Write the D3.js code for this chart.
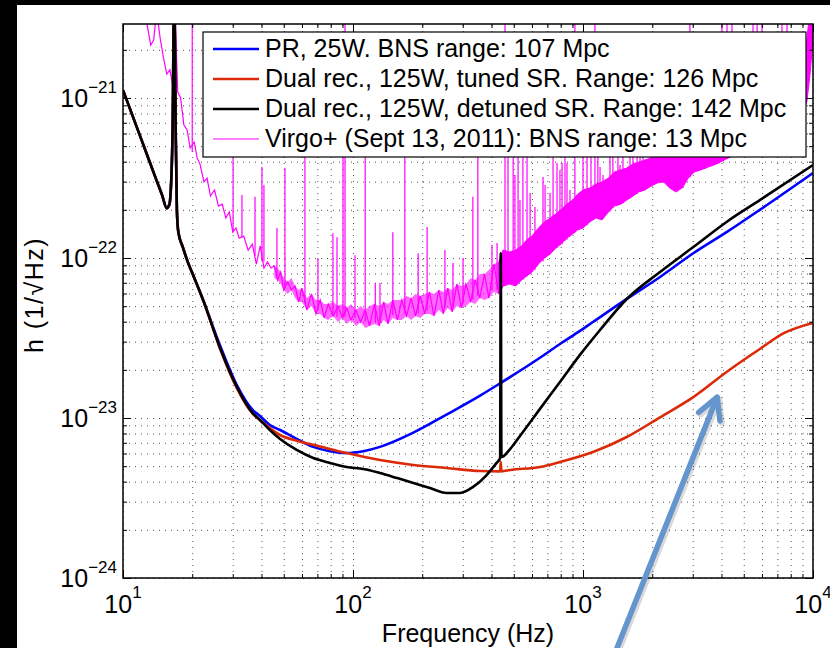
<!DOCTYPE html>
<html>
<head>
<meta charset="utf-8">
<script src="https://cdn.jsdelivr.net/npm/d3@7"></script>
<style>
html, body { margin: 0; padding: 0; background: #fff; overflow: hidden; width: 100%; height: 100%; }
#viz { width: 100%; height: 100%; }
svg { display: block; }
svg text { font-family: "Liberation Sans", Arial, Helvetica, sans-serif; fill: #000; }
.grid line { stroke: #555; stroke-width: 1; stroke-dasharray: 1,5; }
.grid .domain { display: none; }
</style>
</head>
<body>
<div id="viz"></div>
<script>
const width = 830;
const height = 648;

// tick exponents (10^n)
const xTickExps = [1, 2, 3, 4];
const yTickExps = [-24, -23, -22, -21];

// shared low-frequency part of the three detector curves [Hz, h]
const lowFreqPart = [
  [10, 1.12e-21], [11.86, 5.8e-22], [13.77, 3.25e-22], [14.78, 2.48e-22], [15.5, 2.05e-22],
  [15.9, 2.15e-22], [16.2, 3.0e-22], [16.45, 7e-22], [16.7, 6e-21], [16.95, 6e-22],
  [17.15, 2.0e-22], [17.4, 1.45e-22], [18.2, 1.17e-22], [19, 9.7e-23], [20.5, 7.4e-23],
  [22.3, 5.46e-23]
];

const prCurve = [
  [26.4, 2.85e-23], [31.3, 1.6e-23], [36.7, 1.12e-23], [39.4, 1.03e-23], [43.5, 9.04e-24],
  [48.2, 8.41e-24], [56.9, 7.4e-24], [67.2, 6.6e-24], [79.4, 6.2e-24], [93.9, 6.04e-24],
  [110.9, 6.2e-24], [131, 6.6e-24], [183, 8.1e-24], [255, 1.05e-23], [357, 1.38e-23],
  [434, 1.64e-23], [650, 2.38e-23], [794, 2.9e-23], [970, 3.5e-23], [1105, 3.98e-23],
  [1550, 5.55e-23], [2163, 7.61e-23], [3017, 1.07e-22], [4209, 1.45e-22], [5872, 2.0e-22],
  [10000, 3.4e-22]
];

const tunedCurve = [
  [26.4, 2.72e-23], [31.3, 1.53e-23], [36.7, 1.06e-23], [39.4, 9.72e-24], [43.5, 8.66e-24],
  [48.2, 7.83e-24], [56.9, 7.2e-24], [67.2, 6.8e-24], [93.9, 6.04e-24], [131, 5.46e-24],
  [183, 5.09e-24], [255, 4.87e-24], [357, 4.66e-24], [436, 4.64e-24], [439, 5.3e-24],
  [442, 4.64e-24], [482, 4.73e-24], [650, 4.94e-24], [794, 5.31e-24], [1105, 6.13e-24],
  [1550, 7.61e-24], [2163, 1.01e-23], [3017, 1.35e-23], [4209, 1.94e-23], [5872, 2.7e-23],
  [7500, 3.4e-23], [10000, 3.93e-23]
];

const detunedCurve = [
  [26.4, 2.75e-23], [31.3, 1.56e-23], [36.7, 1.07e-23], [39.4, 9.72e-24], [43.5, 8.41e-24],
  [48.2, 7.39e-24], [56.9, 6.31e-24], [67.2, 5.62e-24], [79.4, 5.24e-24], [93.9, 4.94e-24],
  [110.9, 4.8e-24], [131, 4.53e-24], [155, 4.22e-24], [183, 3.93e-24], [216, 3.65e-24],
  [255, 3.4e-24], [292, 3.4e-24], [333, 3.71e-24], [381, 4.4e-24], [421, 5.24e-24],
  [436, 5.6e-24], [439, 1.07e-22], [442, 5.7e-24], [482, 6.4e-24], [532, 7.72e-24],
  [650, 1.14e-23], [794, 1.68e-23], [970, 2.48e-23], [1186, 3.55e-23], [1550, 5.54e-23],
  [2163, 8.18e-23], [3017, 1.17e-22], [4209, 1.68e-22], [5872, 2.3e-22], [10000, 3.81e-22]
];

// Virgo+ measured noise: jittery trace [Hz, h]
const virgoLine = [
  [11.5, 4.5e-21], [12, 5e-21], [12.8, 2.74e-21], [13.2, 2.14e-21], [13.6, 2.30e-21],
  [14, 3.55e-21], [14.5, 2.37e-21], [15, 1.78e-21], [15.5, 1.41e-21], [16, 1.50e-21],
  [16.4, 1.22e-21], [16.8, 3.81e-21], [17.3, 1.09e-21], [17.8, 1.0e-21], [18.4, 6.78e-22],
  [19, 6.31e-22], [19.6, 4.87e-22], [20.4, 5.31e-22], [21, 4.22e-22], [21.6, 3.87e-22],
  [22.5, 2.99e-22], [23.2, 3.16e-22], [24, 2.44e-22], [25, 2.66e-22], [26, 2.11e-22],
  [27, 2.17e-22], [28, 1.78e-22], [29, 1.94e-22], [30, 1.45e-22], [31, 1.54e-22],
  [32, 1.33e-22], [33.5, 1.37e-22], [35, 1.12e-22], [36.5, 1.22e-22], [38, 9.17e-23],
  [39.5, 1.19e-22], [41, 8.66e-23], [42.5, 9.44e-23], [44, 8.66e-23], [45.5, 8.91e-23],
  [47, 7.29e-23], [48.5, 8.18e-23], [50, 6.31e-23], [52, 7.08e-23], [54, 6.31e-23],
  [56, 6.68e-23], [58, 5.31e-23], [60, 6.49e-23], [63, 4.73e-23], [66, 5.96e-23],
  [69, 4.47e-23], [72, 5.46e-23], [75, 4.22e-23], [78, 5.16e-23], [82, 4.34e-23],
  [86, 5.01e-23], [90, 4.22e-23], [94, 4.87e-23], [98, 4.10e-23], [103, 4.73e-23],
  [108, 3.98e-23], [113, 4.73e-23], [118, 3.76e-23], [124, 5.16e-23], [130, 3.76e-23],
  [136, 5.31e-23], [142, 3.87e-23], [149, 5.46e-23], [156, 4.10e-23], [163, 5.46e-23],
  [171, 4.34e-23], [179, 5.62e-23], [187, 4.34e-23], [196, 5.79e-23], [205, 4.47e-23],
  [215, 6.13e-23], [225, 4.34e-23], [236, 6.31e-23], [247, 4.47e-23], [258, 6.49e-23],
  [270, 4.60e-23], [283, 6.88e-23], [296, 4.87e-23], [310, 6.88e-23], [325, 5.31e-23],
  [340, 7.29e-23], [356, 5.62e-23], [373, 7.94e-23], [390, 5.62e-23], [410, 9.17e-23],
  [430, 5.96e-23], [450, 1.12e-22]
];

// Virgo+ noise spread between 45 and 450 Hz [Hz, lower edge, upper edge]
const virgoNoiseBand = [
  [45.5, 7.50e-23, 8.91e-23], [47, 7.29e-23, 8.66e-23], [48.5, 6.88e-23, 8.18e-23],
  [50, 6.31e-23, 7.50e-23], [52, 5.96e-23, 7.08e-23], [54, 6.31e-23, 7.50e-23],
  [56, 5.62e-23, 6.68e-23], [58, 5.31e-23, 6.31e-23], [60, 5.31e-23, 6.49e-23],
  [63, 4.73e-23, 5.62e-23], [66, 5.01e-23, 5.96e-23], [69, 4.47e-23, 5.46e-23],
  [72, 4.47e-23, 5.46e-23], [75, 4.22e-23, 5.16e-23], [78, 4.10e-23, 5.16e-23],
  [82, 4.34e-23, 5.31e-23], [86, 3.98e-23, 5.01e-23], [90, 4.22e-23, 5.16e-23],
  [94, 3.87e-23, 4.87e-23], [98, 4.10e-23, 5.16e-23], [103, 3.76e-23, 4.73e-23],
  [108, 3.98e-23, 5.01e-23], [113, 3.65e-23, 4.73e-23], [118, 3.76e-23, 5.01e-23],
  [124, 3.87e-23, 5.16e-23], [130, 3.76e-23, 5.01e-23], [136, 4.10e-23, 5.31e-23],
  [142, 3.87e-23, 5.16e-23], [149, 4.22e-23, 5.46e-23], [156, 4.10e-23, 5.46e-23],
  [163, 4.10e-23, 5.46e-23], [171, 4.34e-23, 5.79e-23], [179, 4.10e-23, 5.62e-23],
  [187, 4.34e-23, 5.96e-23], [196, 4.22e-23, 5.79e-23], [205, 4.47e-23, 5.96e-23],
  [215, 4.47e-23, 6.13e-23], [225, 4.34e-23, 5.96e-23], [236, 4.73e-23, 6.31e-23],
  [247, 4.47e-23, 6.13e-23], [258, 4.87e-23, 6.49e-23], [270, 4.60e-23, 6.31e-23],
  [283, 5.01e-23, 6.88e-23], [296, 4.87e-23, 6.68e-23], [310, 5.01e-23, 6.88e-23],
  [325, 5.31e-23, 7.50e-23], [340, 5.16e-23, 7.29e-23], [356, 5.62e-23, 7.94e-23],
  [373, 5.46e-23, 7.94e-23], [390, 5.62e-23, 8.41e-23], [410, 6.13e-23, 9.17e-23],
  [430, 5.96e-23, 9.44e-23]
];

// Virgo+ dense high-frequency band [Hz, lower edge, upper edge]
const virgoBand = [
  [430, 5.96e-23, 9.44e-23], [450, 6.68e-23, 1.12e-22], [480, 6.88e-23, 1.09e-22],
  [510, 6.68e-23, 1.12e-22], [540, 7.29e-23, 1.19e-22], [570, 7.72e-23, 1.30e-22],
  [600, 8.18e-23, 1.37e-22], [640, 9.17e-23, 1.54e-22], [680, 1.0e-22, 1.68e-22],
  [720, 1.06e-22, 1.78e-22], [760, 1.15e-22, 1.88e-22], [800, 1.22e-22, 2.0e-22],
  [850, 1.33e-22, 2.17e-22], [900, 1.41e-22, 2.30e-22], [950, 1.50e-22, 2.51e-22],
  [1000, 1.54e-22, 2.66e-22], [1070, 1.68e-22, 2.74e-22], [1140, 1.78e-22, 2.90e-22],
  [1210, 1.73e-22, 2.99e-22], [1290, 1.94e-22, 3.16e-22], [1370, 2.11e-22, 3.45e-22],
  [1460, 2.17e-22, 3.55e-22], [1550, 2.30e-22, 3.65e-22], [1650, 2.44e-22, 3.87e-22],
  [1750, 2.59e-22, 3.98e-22], [1860, 2.66e-22, 4.10e-22], [1980, 2.82e-22, 4.22e-22],
  [2100, 2.94e-22, 4.34e-22], [2240, 2.99e-22, 4.47e-22], [2380, 2.74e-22, 4.47e-22],
  [2530, 2.59e-22, 4.34e-22], [2700, 2.74e-22, 4.60e-22], [2870, 3.16e-22, 5.01e-22],
  [3050, 3.45e-22, 5.16e-22], [3250, 3.55e-22, 5.31e-22], [3500, 3.70e-22, 5.54e-22],
  [3800, 3.87e-22, 5.79e-22], [4200, 4.16e-22, 6.22e-22], [4700, 4.47e-22, 6.68e-22],
  [5300, 4.80e-22, 7.29e-22], [6000, 5.23e-22, 7.83e-22], [7000, 5.96e-22, 8.91e-22],
  [8000, 6.88e-22, 1.03e-21], [9000, 8.18e-22, 1.30e-21], [9400, 9.44e-22, 2.30e-21],
  [9700, 1.39e-21, 3.55e-21], [10000, 2.30e-21, 4.10e-21]
];

// Virgo+ narrow lines [Hz, base, peak]
const virgoSpikes = [
  [20, 4.6e-22, 3e-21], [30.1, 1.45e-22, 1.5e-21], [32.9, 1.35e-22, 2.48e-22],
  [37.5, 1.03e-22, 2.41e-22], [40.2, 9.5e-23, 3.70e-22], [41.0, 9.5e-23, 2.86e-22],
  [46.7, 7.6e-23, 1.54e-22], [50.6, 6.5e-23, 3.65e-22], [61.8, 5.2e-23, 1.5e-21],
  [70.4, 4.7e-23, 1.0e-22], [81.8, 4.4e-23, 1.43e-22], [85.2, 4.3e-23, 1.35e-22],
  [90.5, 4.3e-23, 1.5e-21], [92.3, 4.3e-23, 3e-21], [102, 4.2e-23, 1.04e-22],
  [113, 4.0e-23, 1.5e-21], [125, 4.0e-23, 6.98e-23], [131, 4.0e-23, 6.98e-23],
  [149, 4.4e-23, 1.45e-22], [168, 4.5e-23, 1.5e-21], [192, 4.5e-23, 1.07e-22],
  [210, 4.7e-23, 1.56e-22], [251, 4.9e-23, 1.12e-22], [272, 5.0e-23, 9.31e-23],
  [301, 5.2e-23, 1.0e-22], [332, 5.5e-23, 2.41e-22], [349, 5.8e-23, 1.5e-21],
  [402, 6.3e-23, 1.21e-22], [423, 6.3e-23, 1.24e-22], [458, 7e-23, 3e-21],
  [472, 7e-23, 1.5e-21], [497, 6.9e-23, 1.5e-21], [506, 6.8e-23, 3.3e-22],
  [522, 7.0e-23, 1.5e-21], [532, 7.1e-23, 2.30e-22], [548, 7.3e-23, 1.5e-21],
  [571, 7.7e-23, 1.5e-21], [589, 7.9e-23, 2.55e-22], [618, 8.4e-23, 2.08e-22],
  [670, 9.5e-23, 3.21e-22], [684, 1.0e-22, 2.86e-22], [719, 1.05e-22, 2.55e-22],
  [741, 1.1e-22, 1.5e-21], [771, 1.15e-22, 3.92e-22], [794, 1.2e-22, 3.55e-22],
  [811, 1.22e-22, 3.92e-22], [835, 1.28e-22, 1.5e-21], [852, 1.3e-22, 3.92e-22],
  [878, 1.36e-22, 2.66e-22], [922, 1.45e-22, 3e-21], [1000, 1.54e-22, 1.5e-21],
  [1041, 1.6e-22, 1.5e-21], [1083, 1.7e-22, 1.5e-21], [1127, 1.78e-22, 3e-21],
  [1161, 1.75e-22, 1.5e-21], [1186, 1.75e-22, 3.70e-22], [1222, 1.8e-22, 3.3e-22],
  [1310, 1.95e-22, 1.5e-21], [1349, 2.05e-22, 1.5e-21], [1419, 2.15e-22, 1.5e-21],
  [1449, 2.17e-22, 3.81e-22], [1492, 2.2e-22, 1.5e-21], [1601, 2.35e-22, 1.5e-21],
  [1649, 2.44e-22, 1.5e-21], [1718, 2.5e-22, 1.5e-21], [1770, 2.6e-22, 1.5e-21],
  [1824, 2.65e-22, 1.5e-21], [1956, 2.8e-22, 1.5e-21], [1995, 2.8e-22, 1.5e-21],
  [2056, 2.9e-22, 1.5e-21], [2205, 3.0e-22, 1.5e-21], [2273, 3.0e-22, 1.5e-21],
  [2389, 2.8e-22, 1.5e-21], [2588, 2.6e-22, 1.5e-21], [2722, 2.74e-22, 1.5e-21],
  [2804, 3.0e-22, 1.5e-21], [2917, 3.2e-22, 3e-21], [3069, 3.45e-22, 1.5e-21],
  [3162, 3.5e-22, 1.5e-21], [3228, 3.55e-22, 1.5e-21], [3325, 3.6e-22, 1.5e-21],
  [3391, 3.6e-22, 1.5e-21], [3495, 3.7e-22, 1.5e-21], [3603, 3.75e-22, 1.5e-21],
  [3712, 3.8e-22, 1.5e-21], [3786, 3.85e-22, 1.5e-21], [3903, 3.9e-22, 1.5e-21],
  [4018, 4.0e-22, 3e-21], [4227, 4.2e-22, 3e-21], [4443, 4.3e-22, 3e-21],
  [4581, 4.4e-22, 1.5e-21], [4819, 4.5e-22, 1.5e-21], [5058, 4.6e-22, 1.5e-21],
  [5321, 4.8e-22, 1.5e-21], [5486, 4.9e-22, 3e-21], [5715, 5.0e-22, 3e-21],
  [6000, 5.2e-22, 3e-21], [6248, 5.4e-22, 1.5e-21], [6501, 5.6e-22, 1.5e-21],
  [6835, 5.8e-22, 1.5e-21], [7328, 6.2e-22, 3e-21], [7709, 6.5e-22, 3e-21],
  [8104, 6.9e-22, 1.5e-21], [8356, 7.2e-22, 1.5e-21], [8781, 7.8e-22, 1.5e-21]
];

const legendLabels = [
  "PR, 25W. BNS range: 107 Mpc",
  "Dual rec., 125W, tuned SR. Range: 126 Mpc",
  "Dual rec., 125W, detuned SR. Range: 142 Mpc",
  "Virgo+ (Sept 13, 2011): BNS range: 13 Mpc"
];
const colors = ["#0000ff", "#dc2a08", "#000000", "#ff00ff"];

// annotation arrow, tail and tip in data units [Hz, h]
const arrowTail = [1400, 3.6e-25];
const arrowTip = [3830, 1.35e-23];

const margin = { top: 24, right: 17, bottom: 70, left: 123 };
const innerWidth = width - margin.left - margin.right;
const innerHeight = height - margin.top - margin.bottom;

const svg = d3.select("#viz")
    .append("svg")
    .attr("version", "1.1")
    .attr("width", "100%")
    .attr("height", "100%")
    .attr("viewBox", `0 0 ${width} ${height}`)
    .attr("preserveAspectRatio", "xMinYMin meet");

svg.append("rect").attr("width", width).attr("height", height).attr("fill", "#fff");
// black frame strips of the original slide
svg.append("rect").attr("x", 0).attr("y", 0).attr("width", 17).attr("height", height).attr("fill", "#000");
svg.append("rect").attr("x", 0).attr("y", 0).attr("width", width).attr("height", 5).attr("fill", "#000");

const xScale = d3.scaleLog().domain([10, 1e4]).range([0, innerWidth]);
const yScale = d3.scaleLog().domain([1e-24, 2.9e-21]).range([innerHeight, 0]);

const xMajor = xTickExps.map(p => Math.pow(10, p));
const yMajor = yTickExps.map(p => Math.pow(10, p));
const xMinor = [], yMinor = [];
[10, 100, 1000].forEach(d => { for (let k = 2; k <= 9; k++) xMinor.push(d * k); });
[1e-24, 1e-23, 1e-22, 1e-21].forEach(d => {
    for (let k = 2; k <= 9; k++) if (d * k <= 2.9e-21) yMinor.push(d * k);
});

const g = svg.append("g")
    .attr("transform", `translate(${margin.left}, ${margin.top})`);

g.append("clipPath").attr("id", "plotClip")
  .append("rect").attr("width", innerWidth).attr("height", innerHeight);

// dotted grid, major and minor
g.append("g").attr("class", "grid")
    .attr("transform", `translate(0, ${innerHeight})`)
    .call(d3.axisBottom(xScale).tickValues(xMajor.concat(xMinor)).tickSize(-innerHeight).tickFormat(""));
g.append("g").attr("class", "grid")
    .call(d3.axisLeft(yScale).tickValues(yMajor.concat(yMinor)).tickSize(-innerWidth).tickFormat(""));

const plot = g.append("g").attr("clip-path", "url(#plotClip)");

const bandGen = d3.area()
    .x(d => xScale(d[0]))
    .y0(d => yScale(d[1]))
    .y1(d => yScale(d[2]));

// Virgo+ trace
plot.append("path")
    .attr("d", bandGen(virgoNoiseBand))
    .attr("fill", colors[3])
    .attr("fill-opacity", 0.6);

plot.append("path")
    .attr("d", bandGen(virgoBand))
    .attr("fill", colors[3])
    .attr("stroke", colors[3])
    .attr("stroke-width", 1);

plot.append("path")
    .attr("d", d3.line().x(d => xScale(d[0])).y(d => yScale(d[1]))(virgoLine))
    .attr("fill", "none")
    .attr("stroke", colors[3])
    .attr("stroke-width", 1.2);

plot.selectAll(".spike")
    .data(virgoSpikes)
    .join("line")
    .attr("class", "spike")
    .attr("x1", d => xScale(d[0]))
    .attr("x2", d => xScale(d[0]))
    .attr("y1", d => yScale(d[1]))
    .attr("y2", d => yScale(d[2]))
    .attr("stroke", colors[3])
    .attr("stroke-width", 1.2);

const curveGen = d3.line()
    .curve(d3.curveMonotoneX)
    .x(d => xScale(d[0]))
    .y(d => yScale(d[1]));

[prCurve, tunedCurve, detunedCurve].forEach((c, i) => {
    plot.append("path")
        .attr("d", curveGen(lowFreqPart.concat(c)))
        .attr("fill", "none")
        .attr("stroke", colors[i])
        .attr("stroke-width", 2.6)
        .attr("stroke-linejoin", "round");
});

// inward ticks on all four sides
const tickSide = (axisFn, vals, size, transform) => {
    const a = g.append("g").attr("transform", transform)
        .call(axisFn.tickValues(vals).tickSize(size).tickSizeOuter(0).tickFormat(""));
    a.select(".domain").remove();
    a.selectAll(".tick line").attr("stroke", "#000").attr("stroke-width", 1);
};
tickSide(d3.axisBottom(xScale), xMajor, -8, `translate(0, ${innerHeight})`);
tickSide(d3.axisBottom(xScale), xMinor, -4, `translate(0, ${innerHeight})`);
tickSide(d3.axisTop(xScale), xMajor, -8, `translate(0, 0)`);
tickSide(d3.axisTop(xScale), xMinor, -4, `translate(0, 0)`);
tickSide(d3.axisLeft(yScale), yMajor, -8, `translate(0, 0)`);
tickSide(d3.axisLeft(yScale), yMinor, -4, `translate(0, 0)`);
tickSide(d3.axisRight(yScale), yMajor, -8, `translate(${innerWidth}, 0)`);
tickSide(d3.axisRight(yScale), yMinor, -4, `translate(${innerWidth}, 0)`);

g.append("rect")
    .attr("width", innerWidth)
    .attr("height", innerHeight)
    .attr("fill", "none")
    .attr("stroke", "#000")
    .attr("stroke-width", 1.5);

// tick labels 10^n
xTickExps.forEach(p => {
    const t = g.append("text")
        .attr("x", xScale(Math.pow(10, p)))
        .attr("y", innerHeight + 35)
        .attr("text-anchor", "middle")
        .style("font-size", "25px");
    t.append("tspan").text("10");
    t.append("tspan").attr("dy", -15).style("font-size", "17px").text(p);
});
yTickExps.forEach(p => {
    const t = g.append("text")
        .attr("x", -6)
        .attr("y", yScale(Math.pow(10, p)) + 9)
        .attr("text-anchor", "end")
        .style("font-size", "25px");
    t.append("tspan").text("10");
    t.append("tspan").attr("dy", -14).style("font-size", "17px").text("\u2212" + Math.abs(p));
});

g.append("text")
    .attr("x", innerWidth / 2)
    .attr("y", innerHeight + 64)
    .attr("text-anchor", "middle")
    .style("font-size", "25px")
    .text("Frequency (Hz)");

g.append("text")
    .attr("transform", `translate(${-80}, ${innerHeight / 2 - 6}) rotate(-90)`)
    .attr("text-anchor", "middle")
    .style("font-size", "25px")
    .style("letter-spacing", "1.5px")
    .text("h (1/\u221AHz)");

// legend
const legend = g.append("g").attr("transform", "translate(80, 8)");
legend.append("rect")
    .attr("width", 603)
    .attr("height", 125)
    .attr("fill", "#fff")
    .attr("stroke", "#000")
    .attr("stroke-width", 1.2);
legendLabels.forEach((lab, i) => {
    const yy = 17 + i * 30;
    legend.append("line")
        .attr("x1", 10).attr("x2", 56)
        .attr("y1", yy).attr("y2", yy)
        .attr("stroke", colors[i])
        .attr("stroke-width", i === 3 ? 1.2 : 2.6);
    legend.append("text")
        .attr("x", 62)
        .attr("y", yy + 8)
        .style("font-size", "25px")
        .text(lab);
});

// blue annotation arrow
const ax0 = xScale(arrowTail[0]) + margin.left, ay0 = yScale(arrowTail[1]) + margin.top;
const ax1 = xScale(arrowTip[0]) + margin.left, ay1 = yScale(arrowTip[1]) + margin.top;
const ang = Math.atan2(ay0 - ay1, ax0 - ax1);
const headLen = 24, spread = 28.5 * Math.PI / 180;
const arrowPath = `M${ax0},${ay0}L${ax1},${ay1}` +
    `M${ax1 + headLen * Math.cos(ang + spread)},${ay1 + headLen * Math.sin(ang + spread)}L${ax1},${ay1}` +
    `L${ax1 + headLen * Math.cos(ang - spread)},${ay1 + headLen * Math.sin(ang - spread)}`;
svg.append("path")
    .attr("d", arrowPath)
    .attr("transform", "translate(2, 2)")
    .attr("fill", "none")
    .attr("stroke", "rgba(0,0,0,0.15)")
    .attr("stroke-width", 6)
    .attr("stroke-linecap", "round")
    .attr("stroke-linejoin", "round");
svg.append("path")
    .attr("d", arrowPath)
    .attr("fill", "none")
    .attr("stroke", "#6496cd")
    .attr("stroke-width", 5.5)
    .attr("stroke-linecap", "round")
    .attr("stroke-linejoin", "round");
</script>
</body>
</html>
